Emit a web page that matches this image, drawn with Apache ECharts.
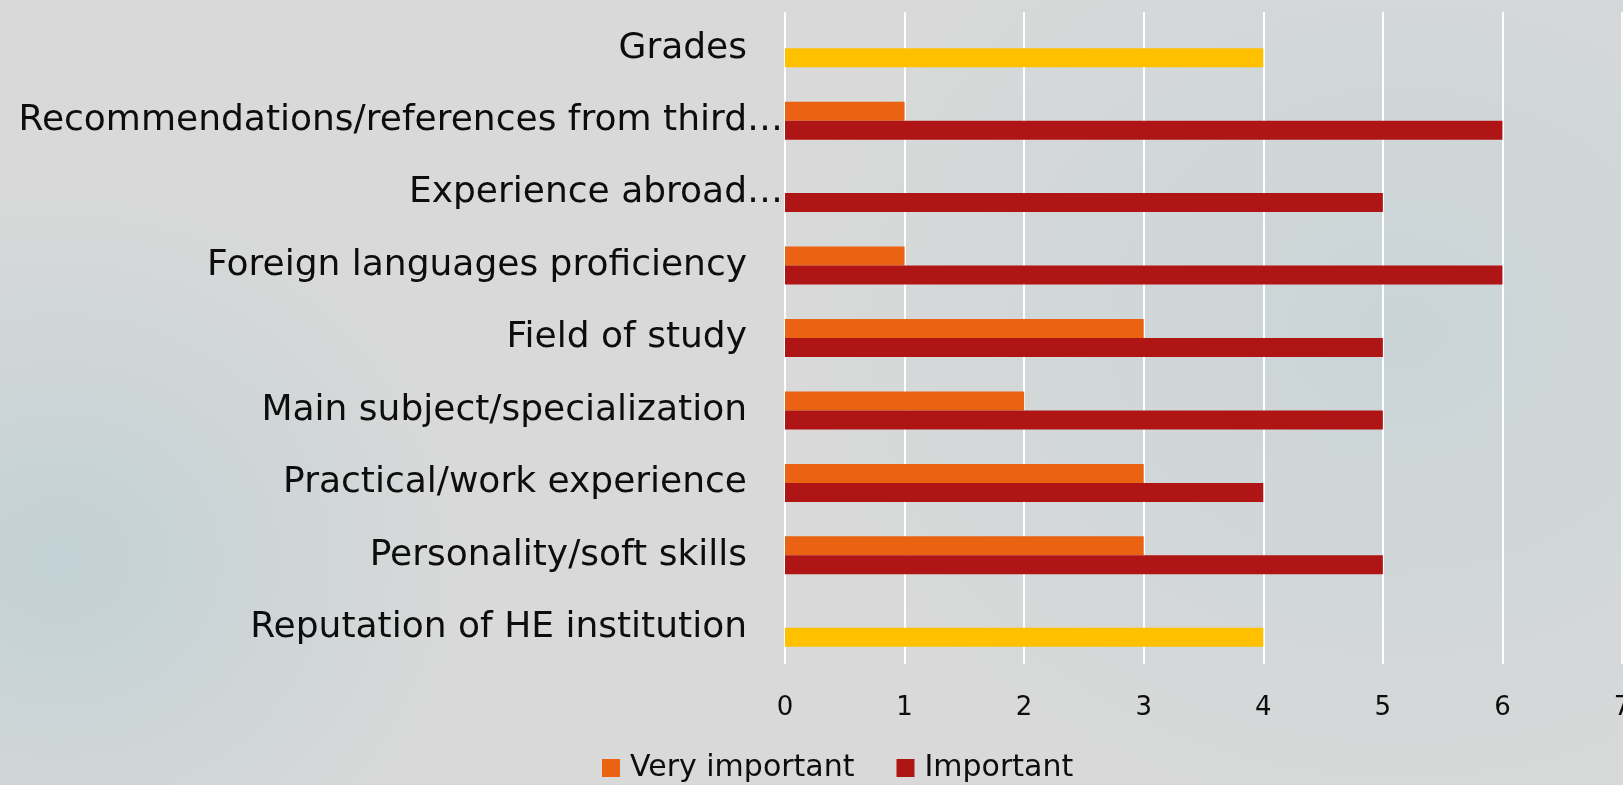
<!DOCTYPE html>
<html>
<head>
<meta charset="utf-8">
<title>Selection criteria</title>
<script src="https://cdn.jsdelivr.net/npm/echarts@6/dist/echarts.min.js"></script>
<style>
html,body{margin:0;padding:0;}
body{
	width:1623px;height:785px;overflow:hidden;
	background:
		radial-gradient(ellipse 420px 380px at 60px 560px, rgba(190,208,212,0.85), rgba(217,217,217,0) 100%),
		radial-gradient(ellipse 620px 520px at 1400px 330px, rgba(200,212,215,0.9), rgba(217,217,217,0) 100%),
		#d9d9d9;
}
#main{width:1623px;height:785px;}
</style>
</head>
<body>
<div id="main"></div>
<script>
// categories, top to bottom as shown
var categories = [
	'Grades',
	'Recommendations/references from third…',
	'Experience abroad…',
	'Foreign languages proficiency',
	'Field of study',
	'Main subject/specialization',
	'Practical/work experience',
	'Personality/soft skills',
	'Reputation of HE institution'
];
var veryImportant = [0, 1, 0, 1, 3, 2, 3, 3, 0];
var important = [4, 6, 5, 6, 5, 5, 4, 5, 4];
// categories whose "Important" bar is highlighted
var highlighted = ['Grades', 'Reputation of HE institution'];
var xTicks = [0, 1, 2, 3, 4, 5, 6, 7];

var FONT = 'DejaVu Sans';

var importantData = [];
for (var i = 0; i < important.length; i++) {
	if (highlighted.indexOf(categories[i]) != -1) {
		importantData.push({value: important[i], itemStyle: {color: '#ffc000'}});
	} else {
		importantData.push(important[i]);
	}
}

var myChart = echarts.init(document.getElementById('main'), null, {renderer: 'canvas'});
var option = {
	backgroundColor: 'transparent',
	animation: false,
	grid: {left: 785, right: 1, top: 12, bottom: 121, outerBoundsMode: 'none', containLabel: false},
	legend: {
		data: ['Very important', 'Important'],
		left: 597,
		top: 748,
		icon: 'rect',
		itemWidth: 18,
		itemHeight: 18,
		itemGap: 42,
		textStyle: {fontFamily: FONT, fontSize: 30, color: '#0d0d0d', padding: [0, 0, 0, 5]}
	},
	xAxis: {
		type: 'value',
		min: xTicks[0],
		max: xTicks[xTicks.length - 1],
		interval: 1,
		axisLine: {show: false},
		axisTick: {show: false},
		splitLine: {show: true, lineStyle: {color: '#ffffff', width: 2}},
		axisLabel: {fontFamily: FONT, fontSize: 26, color: '#0d0d0d', margin: 31}
	},
	yAxis: {
		type: 'category',
		data: categories,
		inverse: true,
		axisLine: {show: false},
		axisTick: {show: false},
		axisLabel: {
			margin: 2,
			fontFamily: FONT,
			fontSize: 36,
			color: '#0d0d0d',
			formatter: function (v) {
				if (v.charAt(v.length - 1) == '…') {
					return v.substring(0, v.length - 1) + '{e|…}';
				}
				return v + '{pad| }';
			},
			rich: {
				pad: {width: 36, fontFamily: FONT, fontSize: 36},
				e: {width: 36, fontFamily: FONT, fontSize: 36, color: '#0d0d0d'}
			}
		}
	},
	series: [
		{
			name: 'Very important',
			type: 'bar',
			data: veryImportant,
			barWidth: 19,
			barGap: '0%',
			itemStyle: {color: '#ea6312'}
		},
		{
			name: 'Important',
			type: 'bar',
			data: importantData,
			barWidth: 19,
			barGap: '0%',
			itemStyle: {color: '#b01515'}
		}
	]
};
myChart.setOption(option);
</script>
</body>
</html>
